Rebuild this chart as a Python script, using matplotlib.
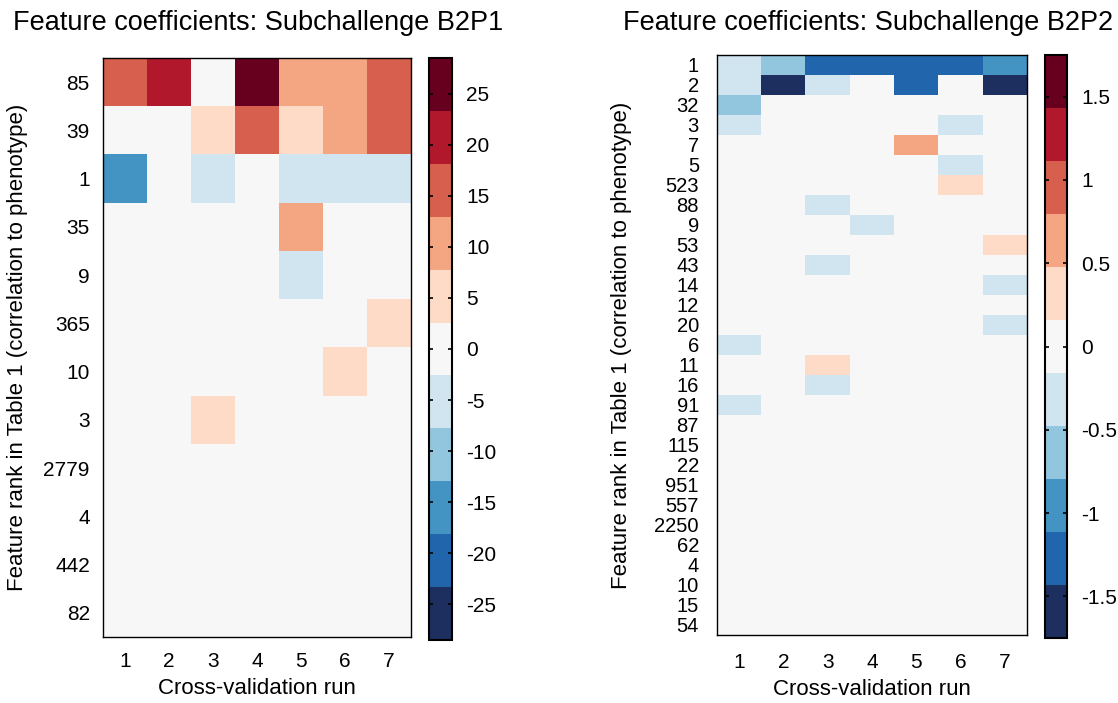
import numpy as np
import matplotlib.pyplot as plt
from matplotlib.colors import ListedColormap

plt.rcParams['font.family'] = ['Liberation Sans', 'DejaVu Sans']

# discrete red-blue map (11 steps), low -> high
colors = ['#1c2f5e', '#2166ac', '#4393c3', '#92c5de', '#d1e5f0', '#f7f7f7',
          '#fddbc7', '#f4a582', '#d6604d', '#b2182b', '#67001f']
cmap = ListedColormap(colors)

runs = [1, 2, 3, 4, 5, 6, 7]

# Subchallenge B2P1
ranks_p1 = ['85', '39', '1', '35', '9', '365', '10', '3', '2779', '4', '442', '82']
coef_p1 = [
    [15, 20, 0, 26, 10, 10, 15],
    [0, 0, 5, 15, 5, 10, 15],
    [-15, 0, -5, 0, -5, -5, -5],
    [0, 0, 0, 0, 10, 0, 0],
    [0, 0, 0, 0, -5, 0, 0],
    [0, 0, 0, 0, 0, 0, 5],
    [0, 0, 0, 0, 0, 5, 0],
    [0, 0, 5, 0, 0, 0, 0],
    [0, 0, 0, 0, 0, 0, 0],
    [0, 0, 0, 0, 0, 0, 0],
    [0, 0, 0, 0, 0, 0, 0],
    [0, 0, 0, 0, 0, 0, 0],
]
lim_p1 = 28.5
cbar_ticks_p1 = [-25, -20, -15, -10, -5, 0, 5, 10, 15, 20, 25]

# Subchallenge B2P2
ranks_p2 = ['1', '2', '32', '3', '7', '5', '523', '88', '9', '53', '43', '14', '12',
            '20', '6', '11', '16', '91', '87', '115', '22', '951', '557', '2250',
            '62', '4', '10', '15', '54']
coef_p2 = [
    [-0.3, -0.6, -1.25, -1.25, -1.25, -1.25, -0.95],
    [-0.3, -1.6, -0.3, 0, -1.25, 0, -1.6],
    [-0.6, 0, 0, 0, 0, 0, 0],
    [-0.3, 0, 0, 0, 0, -0.3, 0],
    [0, 0, 0, 0, 0.6, 0, 0],
    [0, 0, 0, 0, 0, -0.3, 0],
    [0, 0, 0, 0, 0, 0.3, 0],
    [0, 0, -0.3, 0, 0, 0, 0],
    [0, 0, 0, -0.3, 0, 0, 0],
    [0, 0, 0, 0, 0, 0, 0.3],
    [0, 0, -0.3, 0, 0, 0, 0],
    [0, 0, 0, 0, 0, 0, -0.3],
    [0, 0, 0, 0, 0, 0, 0],
    [0, 0, 0, 0, 0, 0, -0.3],
    [-0.3, 0, 0, 0, 0, 0, 0],
    [0, 0, 0.3, 0, 0, 0, 0],
    [0, 0, -0.3, 0, 0, 0, 0],
    [-0.3, 0, 0, 0, 0, 0, 0],
] + [[0] * 7 for _ in range(11)]
lim_p2 = 1.75
cbar_ticks_p2 = [-1.5, -1, -0.5, 0, 0.5, 1, 1.5]

fig = plt.figure(figsize=(11.18, 7.03), dpi=100)
W, H = 1118, 703


def px_axes(x0, y0, x1, y1):
    return fig.add_axes([x0 / W, 1 - y1 / H, (x1 - x0) / W, (y1 - y0) / H])


def panel(ax, cax, data, ranks, lim, ticks, title, tick_fs, ypad, xpad, title_x):
    im = ax.imshow(np.array(data), cmap=cmap, vmin=-lim, vmax=lim,
                   aspect='auto', interpolation='nearest')
    ax.set_xticks(range(len(runs)))
    ax.set_xticklabels(runs, fontsize=15)
    ax.set_yticks(range(len(ranks)))
    ax.set_yticklabels(ranks, fontsize=tick_fs)
    ax.tick_params(axis='y', length=0, pad=ypad)
    ax.tick_params(axis='x', length=0, pad=xpad)
    ax.set_xlabel('Cross-validation run', fontsize=16, labelpad=5)
    ax.set_ylabel('Feature rank in Table 1 (correlation to phenotype)', fontsize=16)
    for s in ax.spines.values():
        s.set_linewidth(1.0)
    fig.text(title_x / W, 1 - 30 / H, title, fontsize=19.5, ha='left', va='baseline')

    cb = fig.colorbar(im, cax=cax, ticks=ticks)
    cb.ax.set_yticklabels([f'{t:g}' for t in ticks], fontsize=15)
    cb.ax.tick_params(direction='in', left=True, right=True, length=3,
                      width=1.2, pad=10)
    cb.outline.set_linewidth(1.5)


ax1 = px_axes(103, 58, 411, 637)
cax1 = px_axes(429, 58, 452, 640)
panel(ax1, cax1, coef_p1, ranks_p1, lim_p1, cbar_ticks_p1,
      'Feature coefficients: Subchallenge B2P1', 15, 9.5, 11, 13)
ax1.yaxis.set_label_coords(-0.244, 0.5)

ax2 = px_axes(717, 55, 1027, 635)
cax2 = px_axes(1045, 55, 1067, 638)
panel(ax2, cax2, coef_p2, ranks_p2, lim_p2, cbar_ticks_p2,
      'Feature coefficients: Subchallenge B2P2', 14.5, 13, 13, 623)
ax2.yaxis.set_label_coords(-0.274, 0.5)

fig.savefig('out.png', dpi=100)
